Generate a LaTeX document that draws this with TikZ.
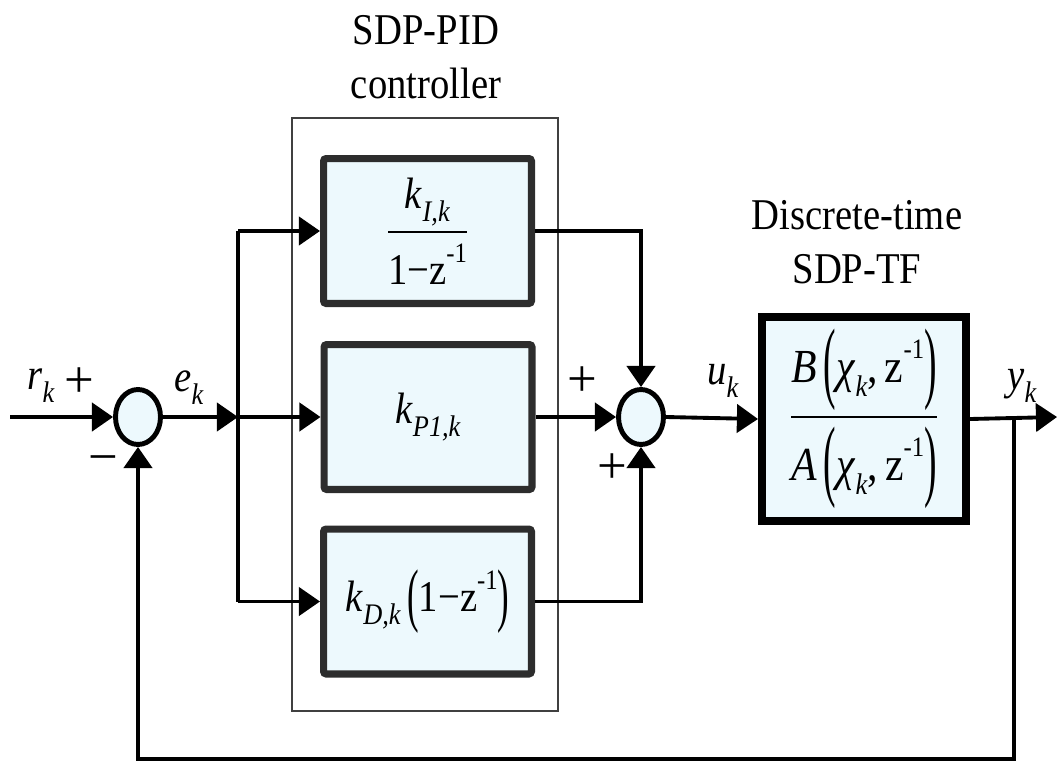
\documentclass[tikz,border=0pt]{standalone}
\usepackage{fontspec}
\setmainfont{Liberation Serif}
\usepackage{amsmath}
\usepackage{graphicx}
\usetikzlibrary{arrows.meta,shapes.geometric}
\definecolor{boxfill}{RGB}{237,249,253}
\definecolor{boxedge}{RGB}{45,45,45}
\newcommand{\hsq}[1]{\scalebox{0.88}[1]{#1}}
\newcommand{\ivar}[1]{\textit{#1}}
\newcommand{\sbs}[1]{\raisebox{-0.3em}{\fontsize{17}{17}\selectfont\textit{#1}}}
\newcommand{\sps}[1]{\raisebox{0.5em}{\fontsize{16}{16}\selectfont #1}}
\newcommand{\lpar}{\,\raisebox{-0.2em}{\scalebox{0.9}[1.9]{(}}}
\newcommand{\rpar}{\raisebox{-0.2em}{\scalebox{0.9}[1.9]{)}}}
\newcommand{\lpars}{\raisebox{-0.15em}{\scalebox{0.9}[1.6]{(}}}
\newcommand{\rpars}{\raisebox{-0.15em}{\scalebox{0.9}[1.6]{)}}}
\begin{document}
\begin{tikzpicture}[x=0.02cm,y=-0.02cm,
  wire/.style={line width=2.2pt},
  arr/.style={line width=2.2pt,-{Triangle[length=12pt,width=16pt]}},
  blk/.style={draw=boxedge,line width=4pt,fill=boxfill,rounded corners=1.5pt,
    minimum width=4.16cm,minimum height=2.9cm,inner sep=0pt,
    font=\fontsize{25}{29}\selectfont},
  plant/.style={draw=black,line width=4.6pt,fill=boxfill,
    minimum width=4.08cm,minimum height=4.08cm,inner sep=0pt,
    font=\fontsize{27}{31}\selectfont},
  sumn/.style={ellipse,draw=black,line width=2.8pt,fill=boxfill,
    minimum width=0.9cm,minimum height=1.1cm,inner sep=0pt},
  ttl/.style={align=center,font=\fontsize{25}{31}\selectfont,inner sep=0pt},
  lbl/.style={font=\fontsize{25}{28}\selectfont,inner sep=0pt},
  sgn/.style={font=\fontsize{30}{32}\selectfont,inner sep=0pt},
  ctrlbox/.style={draw=black!75,line width=1pt,minimum width=5.32cm,minimum height=11.86cm,inner sep=0pt}]
\useasboundingbox (0,0) rectangle (1057,764);

% controller frame
\node[ctrlbox] (ctrl) at (425,414.5) {};

% titles
\node[ttl] (t1) at (426,57) {\hsq{SDP-PID}\\\hsq{controller}};
\node[ttl] (t2) at (857,242) {\hsq{Discrete-time}\\\hsq{SDP-TF}};

% blocks
\node[blk] (I) at (427.5,231) {\hsq{$\displaystyle\frac{\text{\ivar{k}\sbs{I,k}}}{\text{1−z\sps{-1}}\rule{0pt}{1.05em}}$}};
\node[blk] (P) at (428,417) {\hsq{\ivar{k}\sbs{P1,k}}};
\node[blk] (D) at (427.5,601.5) {\hsq{\ivar{k}\sbs{D,k}\,\lpars 1−z\sps{-1}\rpars}};
\node[plant] (G) at (864,419) {\hsq{$\displaystyle\frac{\text{\ivar{B}\lpar\ivar{χ}\sbs{k},\,z\sps{-1}\rpar}}{\text{\ivar{A}\lpar\ivar{χ}\sbs{k},\,z\sps{-1}\rpar}\rule{0pt}{1.2em}}$}};

% summing junctions
\node[sumn] (s1) at (138,417) {};
\node[sumn] (s2) at (641,417) {};

% coordinates
\coordinate (rin) at (10,417);
\coordinate (br) at (238,417);
\coordinate (bI) at (238,231);
\coordinate (bD) at (238,601.5);
\coordinate (yout) at (1057,417);
\coordinate (fb) at (1014,417);
\coordinate (fbr) at (1014,759);

% connectors
\draw[arr] (rin) -- (s1.west);
\draw[arr] (s1.east) -- (br);
\draw[wire] (bI) -- (bD);
\draw[arr] (bI) -- (I.west);
\draw[arr] (br) -- (P.west);
\draw[arr] (bD) -- (D.west);
\draw[arr] (I.east) -| (s2.north);
\draw[arr] (P.east) -- (s2.west);
\draw[arr] (D.east) -| (s2.south);
\draw[arr] (s2.east) -- (G.west);
\draw[arr] (G.east) -- (yout);
\draw[arr] (fb) -- (fbr) -| (s1.south);

% labels
\node[lbl] (lr) at (41,386) {\hsq{\ivar{r}\sbs{k}}};
\node[sgn] (pr) at (79,383) {+};
\node[sgn] (mr) at (103,465) {−};
\node[lbl] (le) at (189,388) {\hsq{\ivar{e}\sbs{k}}};
\node[sgn] (p1) at (582,382) {+};
\node[sgn] (p2) at (612,469) {+};
\node[lbl] (lu) at (723,381) {\hsq{\ivar{u}\sbs{k}}};
\node[lbl] (ly) at (1022,386) {\hsq{\ivar{y}\sbs{k}}};
\end{tikzpicture}
\end{document}
